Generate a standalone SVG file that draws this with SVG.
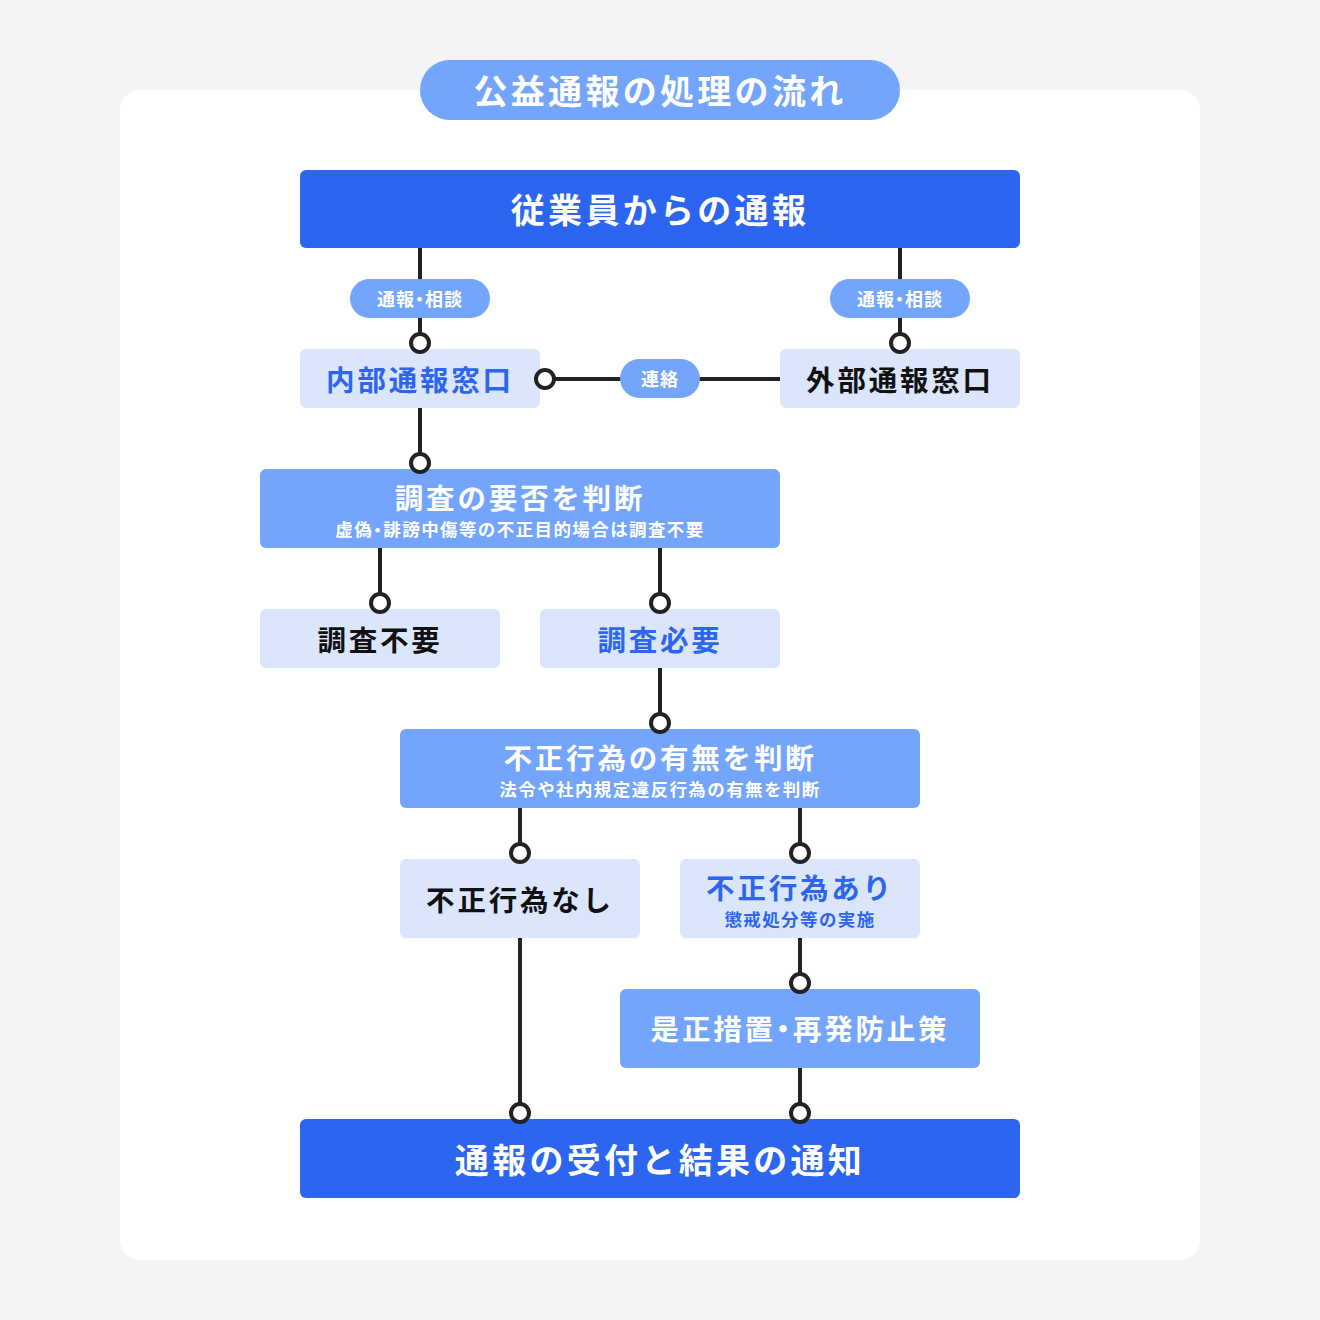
<svg xmlns="http://www.w3.org/2000/svg" width="1320" height="1320" viewBox="0 0 1320 1320">
<style>
text{font-family:"Noto Sans CJK JP","Noto Sans",sans-serif;font-weight:700;text-anchor:middle;dominant-baseline:central}
.p{font-feature-settings:"palt"}
.dark{fill:#2c65f0}
.mid{fill:#74a5fc}
.light{fill:#dbe6fd}
.wt{fill:#ffffff}
.bt{fill:#2c65f0}
.kt{fill:#111111}
.big{font-size:34px;letter-spacing:3.3px}
.med{font-size:28.5px;letter-spacing:2.8px}
.sm{font-size:17.5px;letter-spacing:1.4px}
.lbl{font-size:18px;letter-spacing:1px;fill:#ffffff}
.ln{stroke:#222222;stroke-width:4;fill:none}
.dot{stroke:#222222;stroke-width:4;fill:#ffffff}
</style>
<rect width="1320" height="1320" fill="#f5f3f4"/>
<rect x="120" y="90" width="1080" height="1170" rx="20" fill="#ffffff"/>
<g id="title">
<rect x="420" y="60" width="480" height="60" rx="30" fill="#74a5fc"/>
<text x="660" y="89" class="wt big">公益通報の処理の流れ</text>
</g>
<g id="n-employee">
<rect class="dark" x="300" y="170" width="720" height="78" rx="6"/>
<text x="660" y="208.5" class="wt big">従業員からの通報</text>
</g>
<g id="n-internal">
<rect class="light" x="300" y="349" width="240" height="59" rx="6"/>
<text x="420" y="378.5" class="bt med">内部通報窓口</text>
</g>
<g id="n-external">
<rect class="light" x="780" y="349" width="240" height="59" rx="6"/>
<text x="900" y="378.5" class="kt med">外部通報窓口</text>
</g>
<g id="n-judge1">
<rect class="mid" x="260" y="469" width="520" height="79" rx="6"/>
<text x="520" y="496.5" class="wt med">調査の要否を判断</text>
<text x="520" y="528.5" class="wt sm">虚偽<tspan class="p">・</tspan>誹謗中傷等の不正目的場合は調査不要</text>
</g>
<g id="n-noinv">
<rect class="light" x="260" y="609" width="240" height="59" rx="6"/>
<text x="380" y="638.5" class="kt med">調査不要</text>
</g>
<g id="n-inv">
<rect class="light" x="540" y="609" width="240" height="59" rx="6"/>
<text x="660" y="638.5" class="bt med">調査必要</text>
</g>
<g id="n-judge2">
<rect class="mid" x="400" y="729" width="520" height="79" rx="6"/>
<text x="660" y="756.5" class="wt med">不正行為の有無を判断</text>
<text x="660" y="788.5" class="wt sm">法令や社内規定違反行為の有無を判断</text>
</g>
<g id="n-none">
<rect class="light" x="400" y="859" width="240" height="79" rx="6"/>
<text x="520" y="898" class="kt med">不正行為なし</text>
</g>
<g id="n-found">
<rect class="light" x="680" y="859" width="240" height="79" rx="6"/>
<text x="800" y="886" class="bt med">不正行為あり</text>
<text x="800" y="918.5" class="bt sm">懲戒処分等の実施</text>
</g>
<g id="n-fix">
<rect class="mid" x="620" y="989" width="360" height="79" rx="6"/>
<text x="800" y="1027" class="wt med">是正措置<tspan class="p">・</tspan>再発防止策</text>
</g>
<g id="n-result">
<rect class="dark" x="300" y="1119" width="720" height="79" rx="6"/>
<text x="660" y="1158" class="wt big">通報の受付と結果の通知</text>
</g>
<g id="connectors">
<path class="ln" d="M420 248V343M900 248V343M545 379H780M420 408V463M380 548V603M660 548V603M660 668V723M520 808V853M800 808V853M520 938V1113M800 938V983M800 1068V1113"/>
<rect x="350" y="279" width="140" height="39" rx="19.5" fill="#74a5fc"/>
<text x="420" y="298" class="lbl">通報<tspan class="p">・</tspan>相談</text>
<rect x="830" y="279" width="140" height="39" rx="19.5" fill="#74a5fc"/>
<text x="900" y="298" class="lbl">通報<tspan class="p">・</tspan>相談</text>
<rect x="620" y="359" width="80" height="39" rx="19.5" fill="#74a5fc"/>
<text x="660" y="378" class="lbl">連絡</text>
<circle class="dot" cx="420" cy="343" r="9"/>
<circle class="dot" cx="900" cy="343" r="9"/>
<circle class="dot" cx="545" cy="379" r="9"/>
<circle class="dot" cx="420" cy="463" r="9"/>
<circle class="dot" cx="380" cy="603" r="9"/>
<circle class="dot" cx="660" cy="603" r="9"/>
<circle class="dot" cx="660" cy="723" r="9"/>
<circle class="dot" cx="520" cy="853" r="9"/>
<circle class="dot" cx="800" cy="853" r="9"/>
<circle class="dot" cx="800" cy="983" r="9"/>
<circle class="dot" cx="520" cy="1113" r="9"/>
<circle class="dot" cx="800" cy="1113" r="9"/>
</g>
</svg>
